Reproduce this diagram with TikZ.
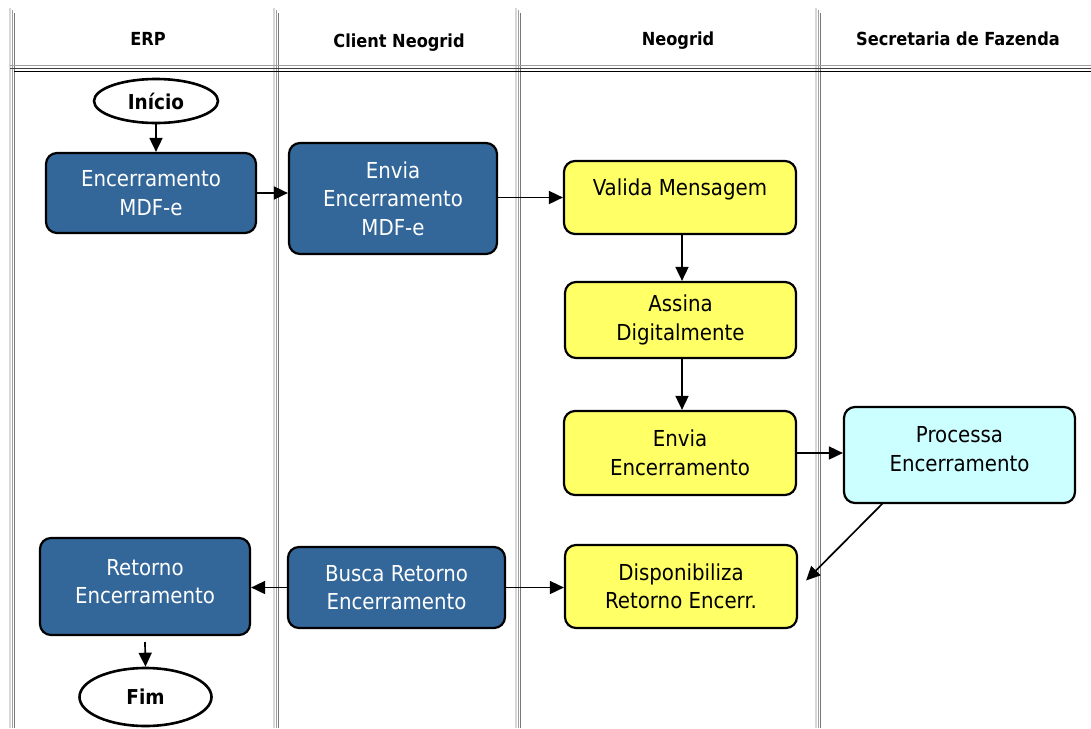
\documentclass[tikz,border=0pt]{standalone}
\usepackage{fontspec}
\setmainfont{DejaVu Sans Condensed}
\usetikzlibrary{arrows.meta,shapes.geometric}
\definecolor{erpblue}{RGB}{51,102,153}
\definecolor{ngyellow}{RGB}{255,255,102}
\definecolor{sfcyan}{RGB}{204,255,255}
\definecolor{lanelight}{RGB}{215,215,215}
\definecolor{lanemid}{RGB}{160,160,160}
\definecolor{lanedark}{RGB}{120,120,120}
\tikzset{
  proc/.style={draw=black, line width=2.2pt, rounded corners=11pt, align=center,
    font=\fontsize{22}{28.5}\selectfont, inner sep=2pt},
  blueproc/.style={proc, fill=erpblue, text=white},
  yelproc/.style={proc, fill=ngyellow, text=black},
  cyanproc/.style={proc, fill=sfcyan, text=black},
  term/.style={draw=black, line width=2.6pt, ellipse, fill=white,
    font=\fontsize{20.5}{24}\selectfont\bfseries, inner sep=0pt},
  hdr/.style={font=\fontsize{18}{21}\selectfont\bfseries, anchor=base},
  conn/.style={line width=1.7pt, -{Triangle[length=14pt,width=13pt]}},
}
\begin{document}
\begin{tikzpicture}[x=1pt,y=-1pt]
\useasboundingbox (0,0) rectangle (1091,728);
% lanes
\foreach \x in {10,274,516,816} {
  \draw[lanelight, line width=1.4pt] (\x,8) -- (\x,728);
  \draw[lanemid, line width=1pt] (\x+2.5,10) -- (\x+2.5,728);
  \draw[lanedark, line width=1pt] (\x+4.5,13) -- (\x+4.5,728);
}
\draw[lanemid, line width=1pt] (10,65.5) -- (1091,65.5);
\draw[black!75, line width=1.2pt] (10,68.5) -- (1091,68.5);
\draw[black, line width=1.4pt] (14,71.5) -- (1091,71.5);
% headers
\node[hdr] (hERP) at (148,45) {ERP};
\node[hdr] (hCN) at (399,47) {Client Neogrid};
\node[hdr] (hNG) at (678,45) {Neogrid};
\node[hdr] (hSF) at (958,45) {Secretaria de Fazenda};
% nodes
\node[term, minimum width=124pt, minimum height=44pt] (inicio) at (156,101) {Início};
\node[blueproc, minimum width=210pt, minimum height=80pt] (encmdf) at (151,193) {Encerramento\\MDF-e};
\node[blueproc, minimum width=208pt, minimum height=111pt] (envmdf) at (393,198.5) {Envia\\Encerramento\\MDF-e};
\node[yelproc, minimum width=232pt, minimum height=73pt, text depth=20pt] (valida) at (680,197.5) {Valida Mensagem};
\node[yelproc, minimum width=231pt, minimum height=76pt] (assina) at (680.5,320) {Assina\\Digitalmente};
\node[yelproc, minimum width=232pt, minimum height=84pt] (envenc) at (680,453) {Envia\\Encerramento};
\node[cyanproc, minimum width=231pt, minimum height=96pt, text depth=12pt] (processa) at (959.5,455) {Processa\\Encerramento};
\node[yelproc, minimum width=232pt, minimum height=83pt] (dispon) at (681,586.5) {Disponibiliza\\Retorno Encerr.};
\node[blueproc, minimum width=217pt, minimum height=81pt] (busca) at (396.5,587.5) {Busca Retorno\\Encerramento};
\node[blueproc, minimum width=210pt, minimum height=97pt, text depth=10pt] (retorno) at (145,586.5) {Retorno\\Encerramento};
\node[term, minimum width=132pt, minimum height=58pt] (fim) at (145.5,697) {Fim};
% connectors
\draw[conn] (inicio.south) -- (encmdf.north -| inicio.south);
\draw[conn] (encmdf.east) -- (envmdf.west |- encmdf.east);
\draw[conn] (envmdf.east |- valida.west) -- (valida.west);
\draw[conn] ([xshift=2pt]valida.south) -- ([xshift=1.5pt]assina.north);
\draw[conn] ([xshift=1.5pt]assina.south) -- ([xshift=2pt]envenc.north);
\draw[conn] (envenc.east) -- (processa.west |- envenc.east);
\coordinate (procout) at (883,503);
\draw[conn] (procout) -- ([xshift=8pt,yshift=6pt]dispon.east);
\draw[conn] (busca.west) -- (retorno.east |- busca.west);
\draw[conn] (busca.east) -- (dispon.west |- busca.east);
\coordinate (retout) at (145,642);
\draw[conn] (retout) -- (fim.north);
\end{tikzpicture}
\end{document}
